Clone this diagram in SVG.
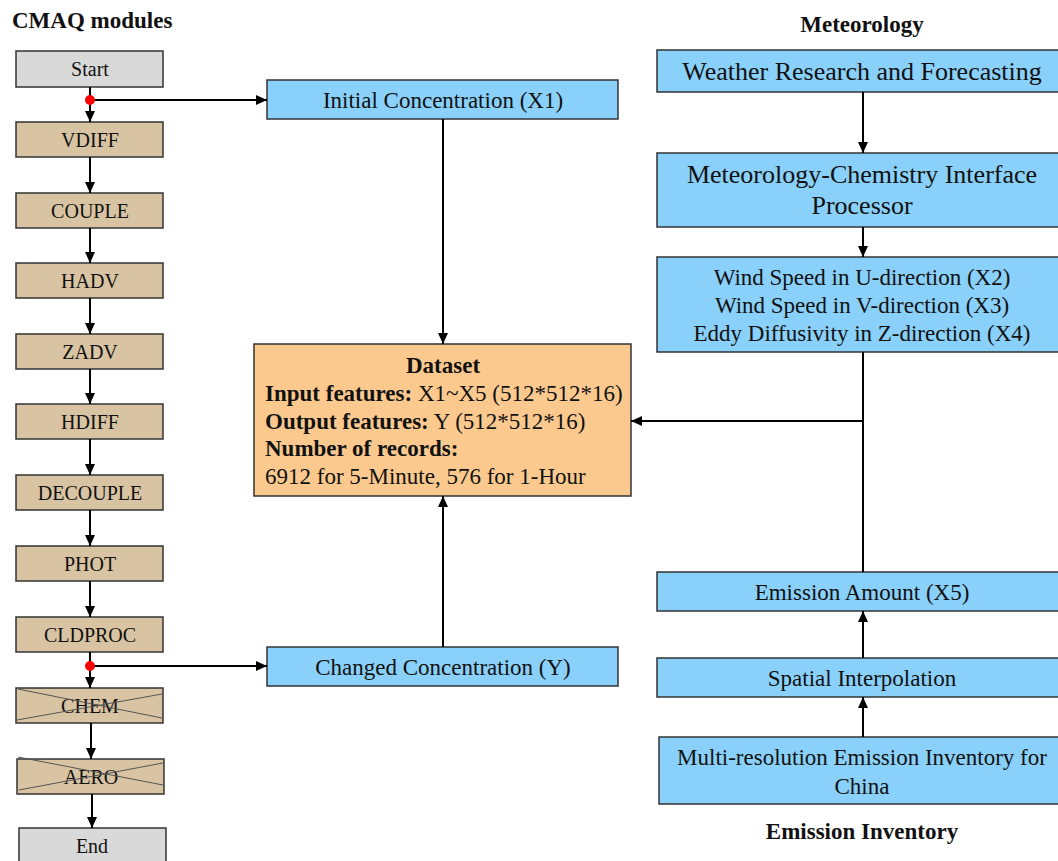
<svg xmlns="http://www.w3.org/2000/svg" width="1058" height="861" viewBox="0 0 1058 861">
<defs>
<marker id="ah" markerUnits="userSpaceOnUse" markerWidth="12" markerHeight="10" refX="11" refY="5" orient="auto">
<path d="M0,0 L11,5 L0,10 Z" fill="#000"/>
</marker>
<style>
text{font-family:"Liberation Serif","Times New Roman",serif;fill:#111}
.m{font-size:20px;text-anchor:middle}
.t{font-size:23px;text-anchor:middle}
.big{font-size:26px;text-anchor:middle}
.h{font-size:23px;font-weight:bold}
.d{font-size:23px}
.gray{fill:#D9D9D9;stroke:#333;stroke-width:1.5}
.tan{fill:#D8C4A2;stroke:#333;stroke-width:1.5}
.blue{fill:#89D0FA;stroke:#333;stroke-width:1.5}
.org{fill:#FBC98E;stroke:#333;stroke-width:1.5}
.c{stroke:#000;stroke-width:2;fill:none}
.x{stroke:#555;stroke-width:1}
</style>
</defs>
<rect width="1058" height="861" fill="#fff"/>
<text x="12" y="28" class="h">CMAQ modules</text>
<text x="862" y="32" class="h" text-anchor="middle">Meteorology</text>
<text x="862" y="839" class="h" text-anchor="middle">Emission Inventory</text>

<g id="start"><rect class="gray" x="16" y="51" width="147" height="36"/><text class="m" x="90" y="76">Start</text></g>
<g id="vdiff"><rect class="tan" x="16" y="122" width="147" height="35"/><text class="m" x="90" y="147">VDIFF</text></g>
<g id="couple"><rect class="tan" x="16" y="193" width="147" height="35"/><text class="m" x="90" y="218">COUPLE</text></g>
<g id="hadv"><rect class="tan" x="16" y="263" width="147" height="35"/><text class="m" x="90" y="288">HADV</text></g>
<g id="zadv"><rect class="tan" x="16" y="334" width="147" height="35"/><text class="m" x="90" y="359">ZADV</text></g>
<g id="hdiff"><rect class="tan" x="16" y="404" width="147" height="35"/><text class="m" x="90" y="429">HDIFF</text></g>
<g id="decouple"><rect class="tan" x="16" y="475" width="147" height="35"/><text class="m" x="90" y="500">DECOUPLE</text></g>
<g id="phot"><rect class="tan" x="16" y="546" width="147" height="35"/><text class="m" x="90" y="571">PHOT</text></g>
<g id="cldproc"><rect class="tan" x="16" y="617" width="147" height="35"/><text class="m" x="90" y="642">CLDPROC</text></g>
<g id="chem"><rect class="tan" x="16" y="688" width="147" height="35"/><text class="m" x="90" y="713">CHEM</text>
<line class="x" x1="18" y1="689" x2="162" y2="718"/><line class="x" x1="17" y1="720" x2="162" y2="694"/></g>
<g id="aero"><rect class="tan" x="17" y="759" width="147" height="35"/><text class="m" x="91" y="784">AERO</text>
<line class="x" x1="18" y1="757" x2="163" y2="785"/><line class="x" x1="19" y1="790" x2="163" y2="763"/></g>
<g id="end"><rect class="gray" x="19" y="828" width="147" height="36"/><text class="m" x="92" y="853">End</text></g>

<g id="initial"><rect class="blue" x="267" y="80" width="351" height="39"/><text class="t" x="443" y="108">Initial Concentration (X1)</text></g>
<g id="changed"><rect class="blue" x="267" y="647" width="351" height="39"/><text class="t" x="443" y="675">Changed Concentration (Y)</text></g>
<g id="dataset"><rect class="org" x="254" y="344" width="377" height="152"/>
<text x="443" y="373" class="d" style="font-weight:bold;text-anchor:middle">Dataset</text>
<text x="265" y="401" class="d"><tspan font-weight="bold">Input features:</tspan> X1~X5 (512*512*16)</text>
<text x="265" y="429" class="d"><tspan font-weight="bold">Output features:</tspan> Y (512*512*16)</text>
<text x="265" y="456" class="d" style="font-weight:bold">Number of records:</text>
<text x="265" y="484" class="d">6912 for 5-Minute, 576 for 1-Hour</text>
</g>

<g id="wrf"><rect class="blue" x="657" y="50" width="411" height="42"/><text class="big" x="862" y="80">Weather Research and Forecasting</text></g>
<g id="mcip"><rect class="blue" x="657" y="153" width="411" height="74"/><text class="big" x="862" y="183">Meteorology-Chemistry Interface</text><text class="big" x="862" y="214">Processor</text></g>
<g id="wind"><rect class="blue" x="657" y="257" width="411" height="95"/>
<text class="t" x="862" y="285">Wind Speed in U-direction (X2)</text>
<text class="t" x="862" y="313">Wind Speed in V-direction (X3)</text>
<text class="t" x="862" y="341">Eddy Diffusivity in Z-direction (X4)</text></g>
<g id="emission"><rect class="blue" x="657" y="572" width="411" height="39"/><text class="t" x="862" y="600">Emission Amount (X5)</text></g>
<g id="spatial"><rect class="blue" x="657" y="658" width="411" height="39"/><text class="t" x="862" y="686">Spatial Interpolation</text></g>
<g id="meic"><rect class="blue" x="659" y="737" width="409" height="67"/><text class="t" x="862" y="765">Multi-resolution Emission Inventory for</text><text class="t" x="862" y="794">China</text></g>

<g id="connectors">
<line class="c" x1="90" y1="87" x2="90" y2="122" marker-end="url(#ah)"/>
<line class="c" x1="90" y1="157" x2="90" y2="193" marker-end="url(#ah)"/>
<line class="c" x1="90" y1="228" x2="90" y2="263" marker-end="url(#ah)"/>
<line class="c" x1="90" y1="298" x2="90" y2="334" marker-end="url(#ah)"/>
<line class="c" x1="90" y1="369" x2="90" y2="404" marker-end="url(#ah)"/>
<line class="c" x1="90" y1="439" x2="90" y2="475" marker-end="url(#ah)"/>
<line class="c" x1="90" y1="510" x2="90" y2="546" marker-end="url(#ah)"/>
<line class="c" x1="90" y1="581" x2="90" y2="617" marker-end="url(#ah)"/>
<line class="c" x1="90" y1="652" x2="90" y2="688" marker-end="url(#ah)"/>
<line class="c" x1="91" y1="723" x2="91" y2="759" marker-end="url(#ah)"/>
<line class="c" x1="92" y1="794" x2="92" y2="828" marker-end="url(#ah)"/>
<line class="c" x1="90" y1="100" x2="267" y2="100" marker-end="url(#ah)"/>
<line class="c" x1="90" y1="666" x2="267" y2="666" marker-end="url(#ah)"/>
<circle cx="90" cy="100" r="5" fill="#F00"/>
<circle cx="90" cy="666" r="5" fill="#F00"/>
<line class="c" x1="443" y1="119" x2="443" y2="344" marker-end="url(#ah)"/>
<line class="c" x1="443" y1="647" x2="443" y2="496" marker-end="url(#ah)"/>
<line class="c" x1="863" y1="92" x2="863" y2="153" marker-end="url(#ah)"/>
<line class="c" x1="863" y1="227" x2="863" y2="257" marker-end="url(#ah)"/>
<line class="c" x1="863" y1="352" x2="863" y2="572"/>
<line class="c" x1="863" y1="421" x2="631" y2="421" marker-end="url(#ah)"/>
<line class="c" x1="863" y1="658" x2="863" y2="611" marker-end="url(#ah)"/>
<line class="c" x1="863" y1="737" x2="863" y2="697" marker-end="url(#ah)"/>
</g>
</svg>
